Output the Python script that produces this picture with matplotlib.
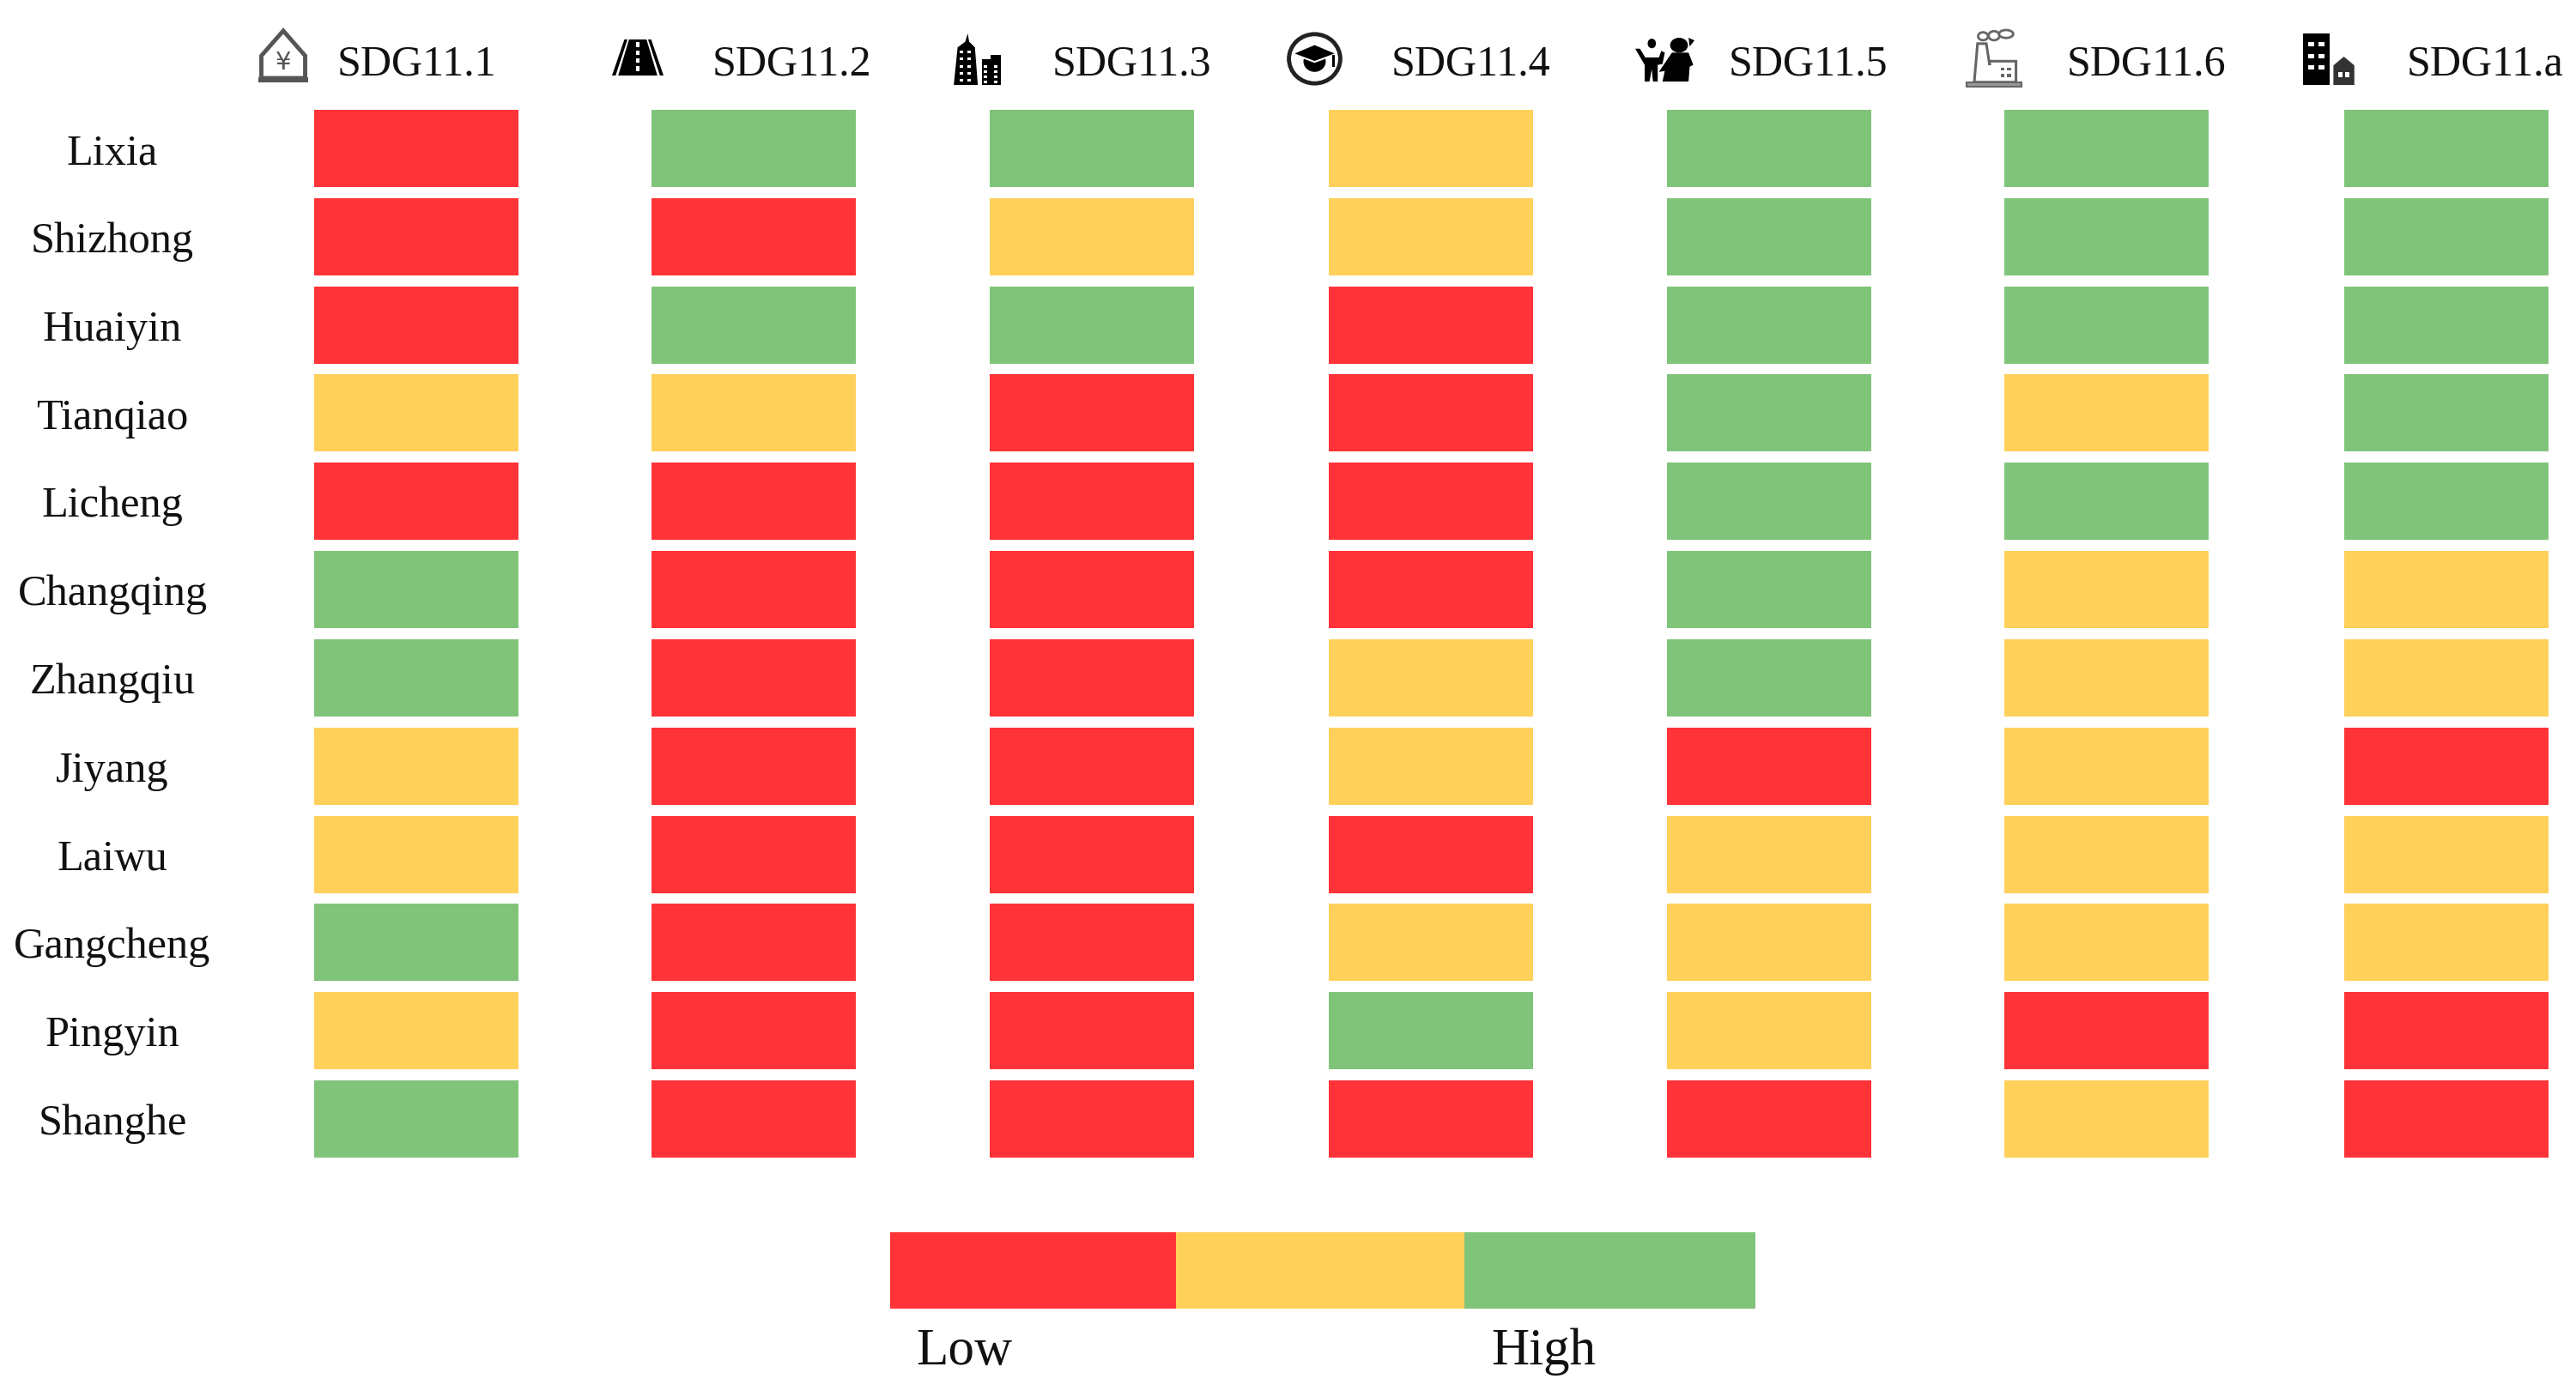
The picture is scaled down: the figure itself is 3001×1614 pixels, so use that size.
import matplotlib
matplotlib.use("Agg")
import matplotlib.pyplot as plt
from matplotlib.patches import Polygon, Rectangle, Ellipse

plt.rcParams['font.family'] = ['Liberation Serif', 'DejaVu Serif']

districts = ["Lixia", "Shizhong", "Huaiyin", "Tianqiao", "Licheng", "Changqing",
             "Zhangqiu", "Jiyang", "Laiwu", "Gangcheng", "Pingyin", "Shanghe"]
indicators = ["SDG11.1", "SDG11.2", "SDG11.3", "SDG11.4", "SDG11.5", "SDG11.6", "SDG11.a"]
# 0 = low, 1 = medium, 2 = high; one list per indicator, top row first
sdg11_1 = [0, 0, 0, 1, 0, 2, 2, 1, 1, 2, 1, 2]
sdg11_2 = [2, 0, 2, 1, 0, 0, 0, 0, 0, 0, 0, 0]
sdg11_3 = [2, 1, 2, 0, 0, 0, 0, 0, 0, 0, 0, 0]
sdg11_4 = [1, 1, 0, 0, 0, 0, 1, 1, 0, 1, 2, 0]
sdg11_5 = [2, 2, 2, 2, 2, 2, 2, 0, 1, 1, 1, 0]
sdg11_6 = [2, 2, 2, 1, 2, 1, 1, 1, 1, 1, 0, 1]
sdg11_a = [2, 2, 2, 2, 2, 1, 1, 0, 1, 1, 0, 0]
levels = [sdg11_1, sdg11_2, sdg11_3, sdg11_4, sdg11_5, sdg11_6, sdg11_a]
level_colors = ["#FF3338", "#FFD05A", "#80C47A"]
legend_labels = ["Low", "High"]

W, H = 3001, 1615
fig = plt.figure(figsize=(W / 100, H / 100), dpi=100, facecolor="white")

# overlay in image pixels for labels, icons and the legend
pix = fig.add_axes([0, 0, 1, 1], zorder=2)
pix.set_xlim(0, W)
pix.set_ylim(H, 0)
pix.axis("off")
pix.patch.set_alpha(0)

# --- heat grid -----------------------------------------------------------
left, right, top, bottom = 365.5, 2968.5, 129, 1350
col_centers = [484.5, 877.5, 1271.5, 1667, 2060.5, 2454, 2849.5]
bar_w, bar_h = 238, 0.875
ax = fig.add_axes([left / W, 1 - bottom / H, (right - left) / W, (bottom - top) / H], zorder=1)
for c, col in enumerate(levels):
    ax.bar([col_centers[c]] * len(col), [bar_h] * len(col),
           bottom=[r - bar_h / 2 for r in range(len(col))],
           width=bar_w, color=[level_colors[v] for v in col], linewidth=0)
ax.set_xlim(left, right)
ax.set_ylim(len(districts) - 1 + bar_h / 2, -bar_h / 2)
ax.axis("off")

for r, name in enumerate(districts):
    ax.annotate(name, xy=(131, r), xycoords=(pix.transData, ax.transData),
                xytext=(0, -12.3), textcoords="offset points",
                ha="center", va="baseline", fontsize=36.3, color="#111111")

label_x = [485.5, 922, 1318, 1713, 2106, 2500, 2895]
for x, name in zip(label_x, indicators):
    pix.text(x, 87.5, name, ha="center", va="baseline", fontsize=36, color="#111111")

# --- legend --------------------------------------------------------------
edges = [1036.5, 1370, 1706, 2044.5]
for i, colr in enumerate(level_colors):
    pix.add_patch(Rectangle((edges[i], 1437), edges[i + 1] - edges[i], 89, fc=colr, lw=0))
pix.text(1123.5, 1590, legend_labels[0], ha="center", va="baseline", fontsize=44, color="#111111")
pix.text(1798, 1590, legend_labels[1], ha="center", va="baseline", fontsize=44, color="#111111")


# --- icons ---------------------------------------------------------------
class Box:
    def __init__(self, x0, y0, x1, y1):
        self.x0, self.y0, self.w, self.h = x0, y0, x1 - x0, y1 - y0

    def p(self, u, v):
        return (self.x0 + u * self.w, self.y0 + v * self.h)

    def poly(self, pts, fc="black", ec="none", lw=0, closed=True):
        pix.add_patch(Polygon([self.p(u, v) for u, v in pts], closed=closed, fc=fc, ec=ec, lw=lw, joinstyle="miter"))

    def rect(self, u0, v0, u1, v1, fc="black", ec="none", lw=0):
        a = self.p(u0, v0)
        b = self.p(u1, v1)
        pix.add_patch(Rectangle(a, b[0] - a[0], b[1] - a[1], fc=fc, ec=ec, lw=lw))

    def ell(self, u, v, ru, rv, fc="black", ec="none", lw=0):
        pix.add_patch(Ellipse(self.p(u, v), 2 * ru * self.w, 2 * rv * self.h, fc=fc, ec=ec, lw=lw))


# house with yen sign
gray = "#555555"
b = Box(301, 35, 359, 97)
b.poly([(0.06, 0.92), (0.06, 0.5), (0.5, 0.03), (0.94, 0.5), (0.94, 0.92)], fc="none", ec=gray, lw=3.5)
b.rect(0.0, 0.9, 1.0, 1.0, fc=gray)
pix.text(*b.p(0.5, 0.62), "¥", ha="center", va="center", fontsize=21, color=gray, family="DejaVu Sans")

# road
b = Box(713, 47, 773, 89)
b.poly([(0.24, 0), (0.76, 0), (1, 1), (0, 1)])
for u0, u1, u2, u3 in [(0.33, 0.30, 0.12, 0.07), (0.67, 0.70, 0.88, 0.93)]:
    b.poly([(u0, 0), (u1, 0), (u3, 1), (u2, 1)], fc="white")
for v in (0.08, 0.3, 0.52, 0.74):
    b.rect(0.47, v, 0.53, v + 0.13, fc="white")

# city towers
b = Box(1110, 40, 1166, 100)
b.poly([(0.31, 0.0), (0.34, 0.16), (0.46, 0.27), (0.52, 1), (0.02, 1), (0.1, 0.27), (0.26, 0.16)])
b.rect(0.6, 0.5, 0.78, 1)
b.rect(0.78, 0.42, 1.0, 1)
for v in (0.33, 0.47, 0.61, 0.75, 0.88):
    for u in (0.14, 0.3):
        b.rect(u, v, u + 0.08, v + 0.05, fc="white")
for v in (0.62, 0.72, 0.82, 0.92):
    b.rect(0.65, v, 0.72, v + 0.04, fc="white")
    b.rect(0.85, v, 0.93, v + 0.04, fc="white")

# graduation cap in a ring
b = Box(1499, 39, 1564, 100)
b.ell(0.5, 0.5, 0.46, 0.47, fc="white", ec="#222222", lw=3.5)
b.ell(0.5, 0.55, 0.2, 0.2)
b.poly([(0.1, 0.4), (0.5, 0.22), (0.9, 0.4), (0.5, 0.56)], ec="white", lw=1.5)
b.rect(0.82, 0.42, 0.86, 0.66, fc="black")

# adult and child
b = Box(1905, 45, 1974, 96)
b.ell(0.28, 0.13, 0.07, 0.11)
b.poly([(0.0, 0.25), (0.08, 0.25), (0.17, 0.45), (0.4, 0.45), (0.44, 0.3), (0.5, 0.34), (0.46, 0.6),
        (0.38, 0.62), (0.38, 1), (0.3, 1), (0.28, 0.72), (0.24, 1), (0.16, 1), (0.16, 0.62)])
b.ell(0.74, 0.17, 0.15, 0.17)
b.poly([(0.9, 0.0), (1.0, 0.06), (0.92, 0.2)])
b.poly([(0.4, 0.78), (0.62, 0.34), (0.9, 0.34), (0.98, 0.62), (0.92, 0.66), (0.9, 1), (0.46, 1), (0.5, 0.76)])

# factory: tall chimney, smoke puffs above it, low hall on the right
line = "#666666"
b = Box(2291, 36, 2355, 102)
b.poly([(0.14, 0.92), (0.2, 0.24), (0.36, 0.24), (0.42, 0.62), (0.42, 0.55), (0.9, 0.55), (0.9, 0.92)],
       fc="white", ec=line, lw=2.2)
b.rect(0.0, 0.92, 1.0, 1.0, fc="#999999", ec=line, lw=1.5)
for u, v, ru, rv in [(0.3, 0.11, 0.09, 0.07), (0.5, 0.1, 0.1, 0.08), (0.72, 0.07, 0.13, 0.07)]:
    b.ell(u, v, ru, rv, fc="white", ec=line, lw=2)
for u, v in [(0.62, 0.66), (0.74, 0.66), (0.62, 0.78), (0.74, 0.78)]:
    b.rect(u, v, u + 0.07, v + 0.05, fc=line)

# tall building and small house
b = Box(2683, 40, 2744, 100)
b.rect(0, 0, 0.5, 1)
for v in (0.17, 0.4, 0.62):
    for u in (0.1, 0.3):
        b.rect(u, v, u + 0.11, v + 0.08, fc="white")
b.poly([(0.58, 1), (0.58, 0.62), (0.78, 0.45), (0.98, 0.62), (0.98, 1)], fc="#333333")
for u in (0.68, 0.8):
    b.rect(u, 0.75, u + 0.08, 0.85, fc="white")

fig.savefig("out.png", dpi=100, facecolor="white")
